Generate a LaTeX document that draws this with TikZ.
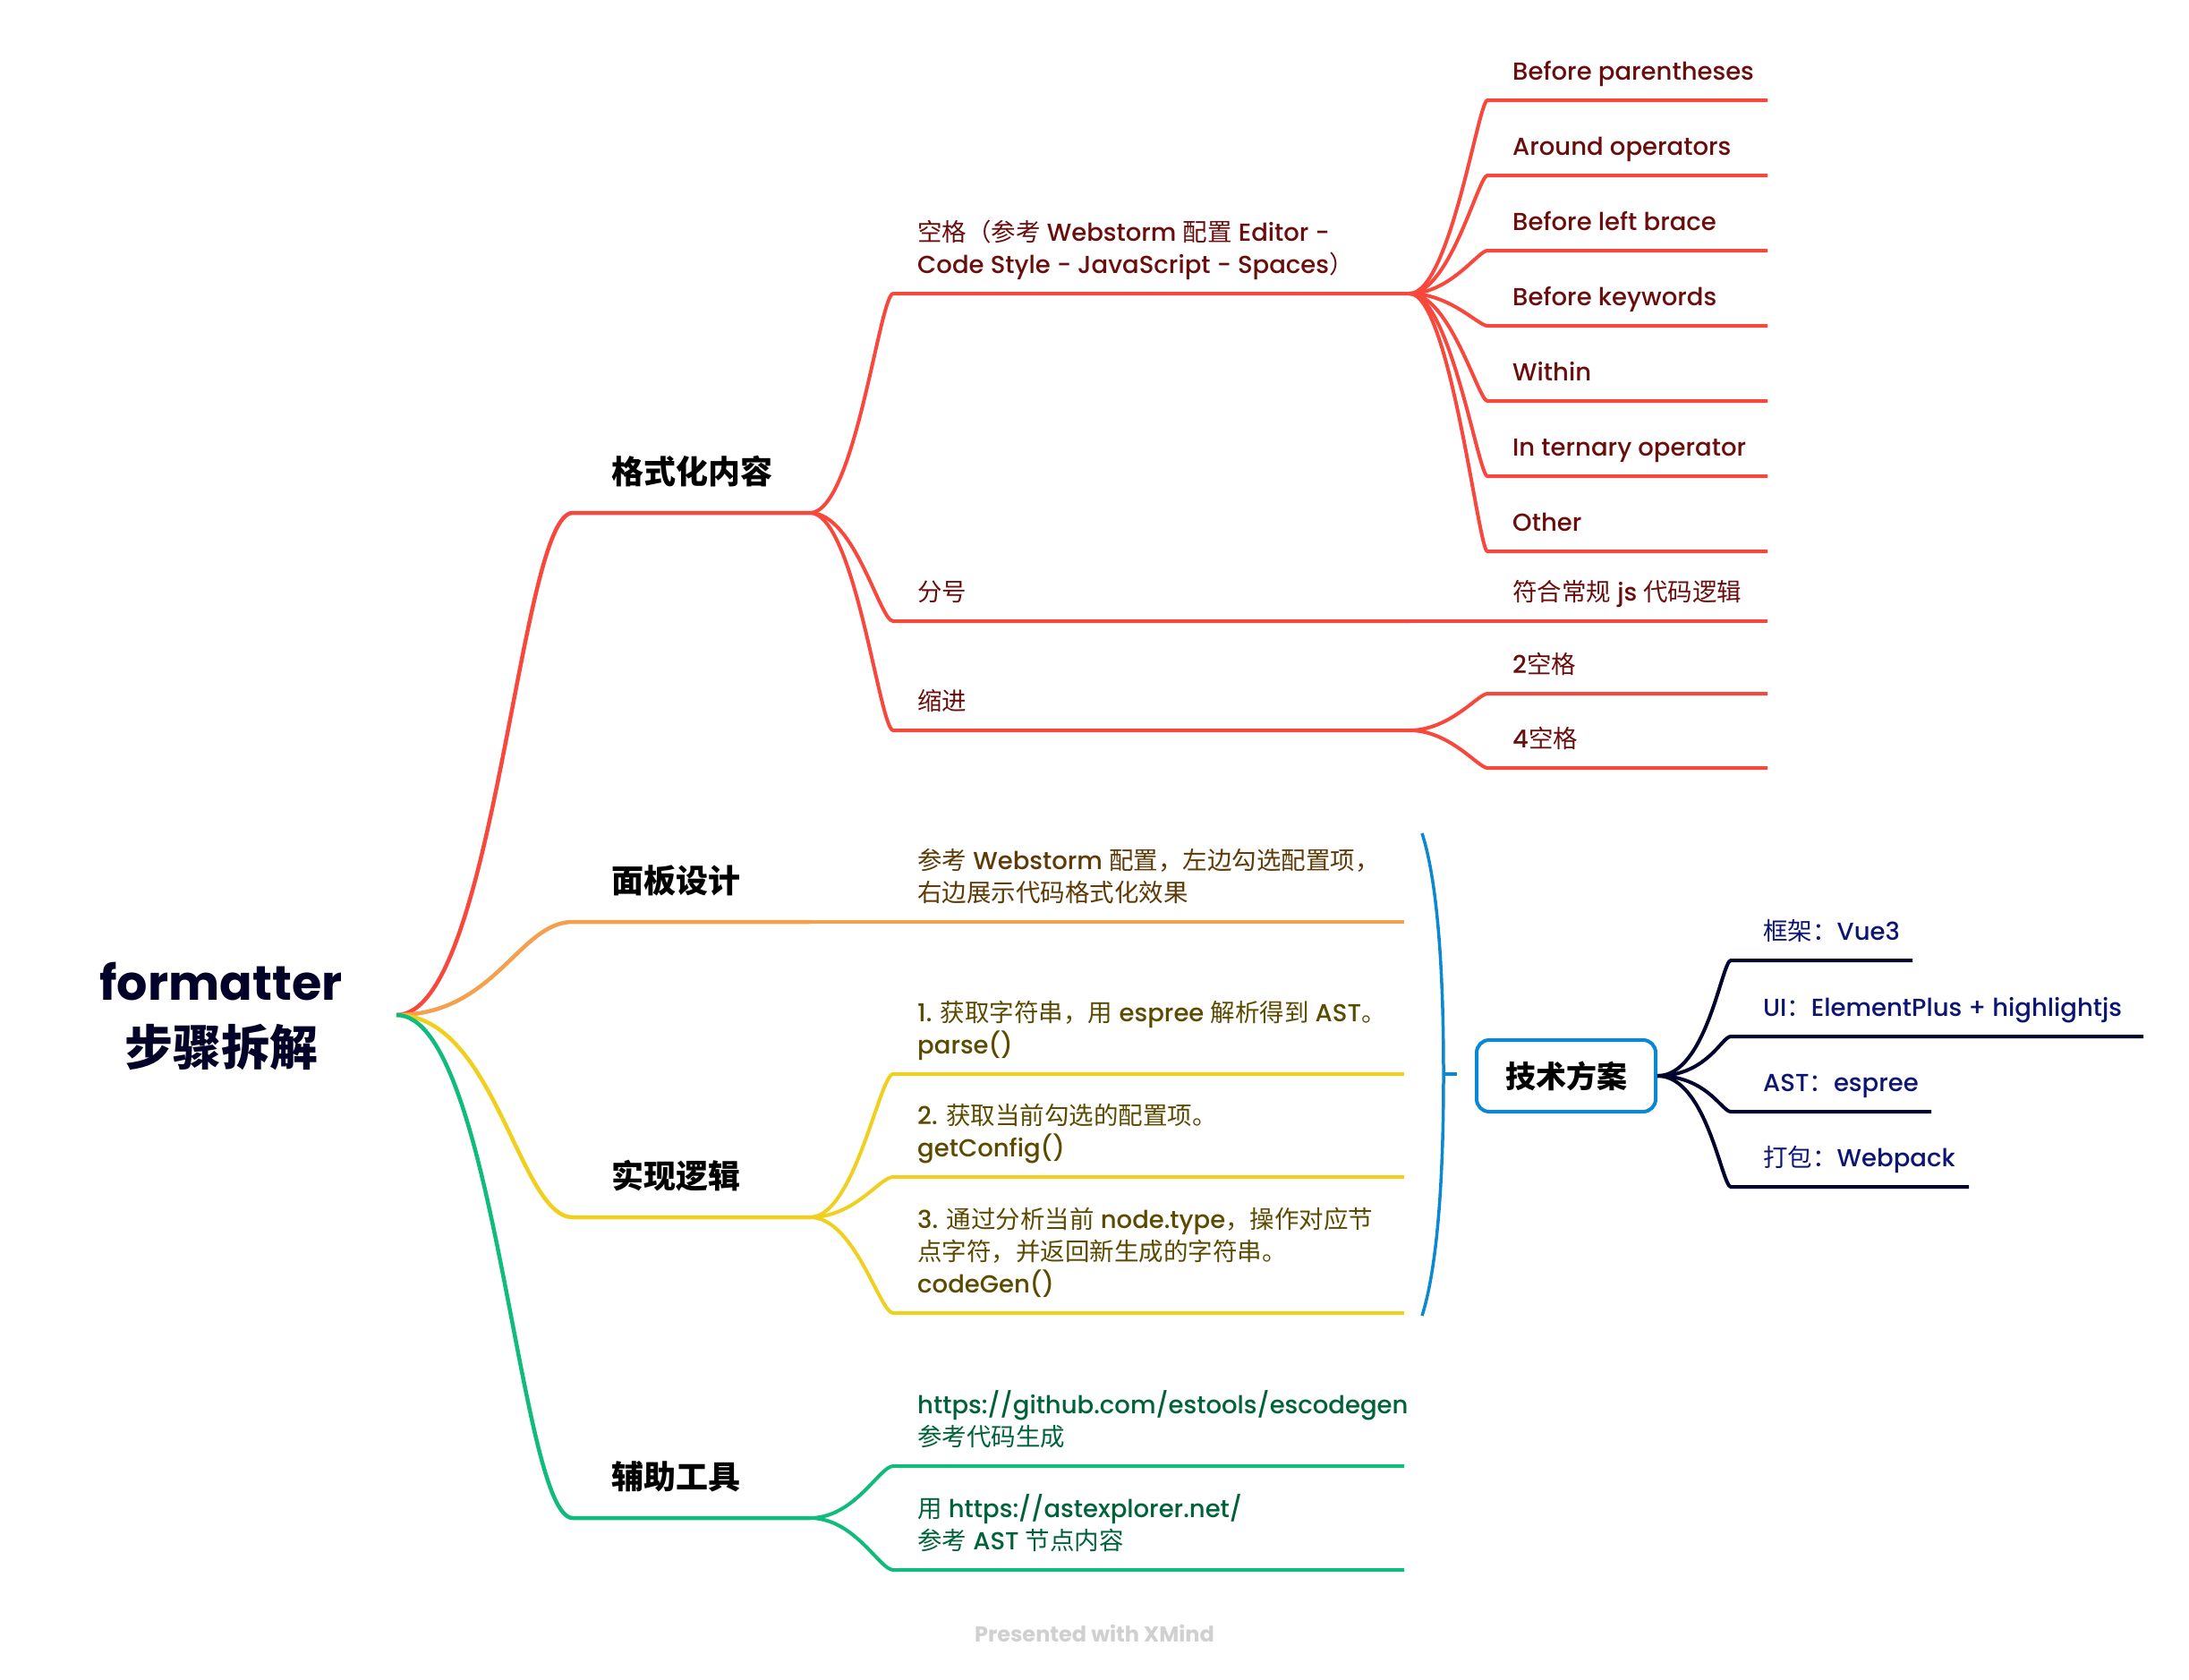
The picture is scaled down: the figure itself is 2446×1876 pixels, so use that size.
\documentclass[tikz,border=0pt]{standalone}
\usepackage{fontspec}
\setmainfont{Poppins}[UprightFont=* Medium, BoldFont=* Bold]
\newfontfamily\cjk{Noto Sans CJK SC}
\newcommand\C[1]{{\cjk #1}}
\definecolor{redline}{HTML}{F8483D}
\definecolor{redtext}{HTML}{6A0D0D}
\definecolor{orline}{HTML}{F5A04E}
\definecolor{ortext}{HTML}{5E3A06}
\definecolor{yeline}{HTML}{F0D01E}
\definecolor{yetext}{HTML}{5B4A00}
\definecolor{grline}{HTML}{10BC7C}
\definecolor{grtext}{HTML}{006239}
\definecolor{blline}{HTML}{0A88D4}
\definecolor{nvline}{HTML}{00022E}
\definecolor{nvtext}{HTML}{0D1573}
\definecolor{roottext}{HTML}{030329}
\definecolor{foot}{HTML}{D0D0D0}
\begin{document}
\begin{tikzpicture}[x=1pt,y=-1pt,
  br/.style={line width=4.5pt},
  sub/.style={line width=4pt},
  lbl/.style={anchor=base west, inner sep=0pt, align=left, font=\fontsize{27.5}{36}\selectfont},
  lvlone/.style={anchor=base west, inner sep=0pt, text=black, font=\fontsize{36}{44}\selectfont\bfseries},
  rootlbl/.style={anchor=base, inner sep=0pt, align=center, text=roottext, font=\fontsize{54}{73}\selectfont\bfseries},
  techbox/.style={draw=blline, line width=4pt, rounded corners=14pt, minimum width=200pt, minimum height=80pt, inner sep=0pt, text=black, font=\fontsize{34}{40}\selectfont\bfseries}
]
\useasboundingbox (0,0) rectangle (2446,1876);
\fill[white] (0,0) rectangle (2446,1876);

% ---------- root ----------
\node[rootlbl] (root) at (247,1190) {formatter\\\C{步骤拆解}};
\coordinate (R) at (443,1134);

% ---------- level 1 coordinates ----------
\coordinate (A1s) at (640,573);  \coordinate (A1e) at (905,573);
\coordinate (B1s) at (640,1030); \coordinate (B1e) at (905,1030);
\coordinate (C1s) at (640,1360); \coordinate (C1e) at (905,1360);
\coordinate (D1s) at (640,1696); \coordinate (D1e) at (905,1696);

\node[lvlone] (fmt) at (683,540) {\C{格式化内容}};
\node[lvlone] (panel) at (683,997) {\C{面板设计}};
\node[lvlone] (impl) at (683,1327) {\C{实现逻辑}};
\node[lvlone] (tools) at (683,1663) {\C{辅助工具}};

% ---------- red branch ----------
\begin{scope}[redline]
\draw[br] (R) .. controls +(110,0) and +(-60,0) .. (A1s) -- (A1e);
\coordinate (A2s) at (998,328); \coordinate (A2e) at (1575,328);
\coordinate (A3s) at (998,694); \coordinate (A3e) at (1575,694);
\coordinate (A4s) at (998,816); \coordinate (A4e) at (1575,816);
\draw[sub] (A1e) .. controls +(50,0) and +(-15,0) .. (A2s) -- (A2e);
\draw[sub] (A1e) .. controls +(50,0) and +(-15,0) .. (A3s) -- (A3e);
\draw[sub] (A1e) .. controls +(50,0) and +(-15,0) .. (A4s) -- (A4e);
\foreach \n/\y in {p1/112,p2/196,p3/280,p4/364,p5/448,p6/532,p7/616}{
  \coordinate (\n s) at (1662,\y); \coordinate (\n e) at (1975,\y);
  \draw[sub] (A2e) .. controls +(45,0) and +(-10,0) .. (\n s) -- (\n e);
}
\coordinate (q1s) at (1662,694); \coordinate (q1e) at (1975,694);
\draw[sub] (A3e) -- (q1s) -- (q1e);
\coordinate (r1s) at (1662,775); \coordinate (r1e) at (1975,775);
\coordinate (r2s) at (1662,858); \coordinate (r2e) at (1975,858);
\draw[sub] (A4e) .. controls +(45,0) and +(-10,0) .. (r1s) -- (r1e);
\draw[sub] (A4e) .. controls +(45,0) and +(-10,0) .. (r2s) -- (r2e);
\end{scope}

\begin{scope}[every node/.style={lbl, text=redtext}]
\node (space) at (1025,305) {\C{空格（参考} Webstorm \C{配置} Editor -\\Code Style - JavaScript - Spaces\C{）}};
\node (semi) at (1025,671) {\C{分号}};
\node (indent) at (1025,793) {\C{缩进}};
\node (t1) at (1690,89) {Before parentheses};
\node (t2) at (1690,173) {Around operators};
\node (t3) at (1690,257) {Before left brace};
\node (t4) at (1690,341) {Before keywords};
\node (t5) at (1690,425) {Within};
\node (t6) at (1690,509) {In ternary operator};
\node (t7) at (1690,593) {Other};
\node (t8) at (1690,671) {\C{符合常规} js \C{代码逻辑}};
\node (t9) at (1690,752) {2\C{空格}};
\node (t10) at (1690,835) {4\C{空格}};
\end{scope}

% ---------- orange branch ----------
\begin{scope}[orline]
\coordinate (B2s) at (998,1030); \coordinate (B2e) at (1569,1030);
\draw[br] (R) .. controls +(110,0) and +(-60,0) .. (B1s) -- (B1e);
\draw[sub] (B1e) -- (B2s) -- (B2e);
\end{scope}
\node[lbl, text=ortext] (ref) at (1025,1007) {\C{参考} Webstorm \C{配置，左边勾选配置项，}\\\C{右边展示代码格式化效果}};

% ---------- yellow branch ----------
\begin{scope}[yeline]
\coordinate (C2s) at (998,1200); \coordinate (C2e) at (1569,1200);
\coordinate (C3s) at (998,1315); \coordinate (C3e) at (1569,1315);
\coordinate (C4s) at (998,1467); \coordinate (C4e) at (1569,1467);
\draw[br] (R) .. controls +(110,0) and +(-60,0) .. (C1s) -- (C1e);
\draw[sub] (C1e) .. controls +(50,0) and +(-15,0) .. (C2s) -- (C2e);
\draw[sub] (C1e) .. controls +(50,0) and +(-15,0) .. (C3s) -- (C3e);
\draw[sub] (C1e) .. controls +(50,0) and +(-15,0) .. (C4s) -- (C4e);
\end{scope}
\begin{scope}[every node/.style={lbl, text=yetext}]
\node (s1) at (1025,1177) {1. \C{获取字符串，用} espree \C{解析得到} AST\C{。}\\parse()};
\node (s2) at (1025,1292) {2. \C{获取当前勾选的配置项。}\\getConfig()};
\node (s3) at (1025,1444) {3. \C{通过分析当前} node.type\C{，操作对应节}\\\C{点字符，并返回新生成的字符串。}\\codeGen()};
\end{scope}

% ---------- green branch ----------
\begin{scope}[grline]
\coordinate (D2s) at (998,1638); \coordinate (D2e) at (1569,1638);
\coordinate (D3s) at (998,1754); \coordinate (D3e) at (1569,1754);
\draw[br] (R) .. controls +(110,0) and +(-60,0) .. (D1s) -- (D1e);
\draw[sub] (D1e) .. controls +(50,0) and +(-15,0) .. (D2s) -- (D2e);
\draw[sub] (D1e) .. controls +(50,0) and +(-15,0) .. (D3s) -- (D3e);
\end{scope}
\begin{scope}[every node/.style={lbl, text=grtext}]
\node (g1) at (1025,1615) {https://github.com/estools/escodegen\\\C{参考代码生成}};
\node (g2) at (1025,1731) {\C{用} https://astexplorer.net/\\\C{参考} AST \C{节点内容}};
\end{scope}

% ---------- bracket and tech box ----------
\coordinate (Bt) at (1589,931); \coordinate (Bm) at (1613,1200);
\coordinate (Bb) at (1589,1470); \coordinate (Bk) at (1628,1200);
\draw[blline, line width=3.5pt] (Bt) .. controls (1608,990) and (1613,1100) .. (Bm)
   .. controls (1613,1300) and (1608,1410) .. (Bb);
\draw[blline, line width=3.5pt] (Bm) -- (Bk);
\node[techbox] (tech) at (1750,1202) {\C{技术方案}};

\begin{scope}[nvline]
\foreach \n/\y/\xe in {u1/1073/2137,u2/1158/2395,u3/1242/2158,u4/1326/2200}{
  \coordinate (\n s) at (1934,\y); \coordinate (\n e) at (\xe,\y);
  \draw[sub] (tech.east) .. controls +(55,0) and +(-10,0) .. (\n s) -- (\n e);
}
\end{scope}
\begin{scope}[every node/.style={lbl, text=nvtext}]
\node (k1) at (1970,1050) {\C{框架：}Vue3};
\node (k2) at (1970,1135) {UI\C{：}ElementPlus + highlightjs};
\node (k3) at (1970,1219) {AST\C{：}espree};
\node (k4) at (1970,1303) {\C{打包：}Webpack};
\end{scope}

% ---------- footer ----------
\node[anchor=base, inner sep=0pt, text=foot, font=\fontsize{24}{28}\selectfont\bfseries] (footer) at (1223,1834) {Presented with XMind};
\end{tikzpicture}
\end{document}
